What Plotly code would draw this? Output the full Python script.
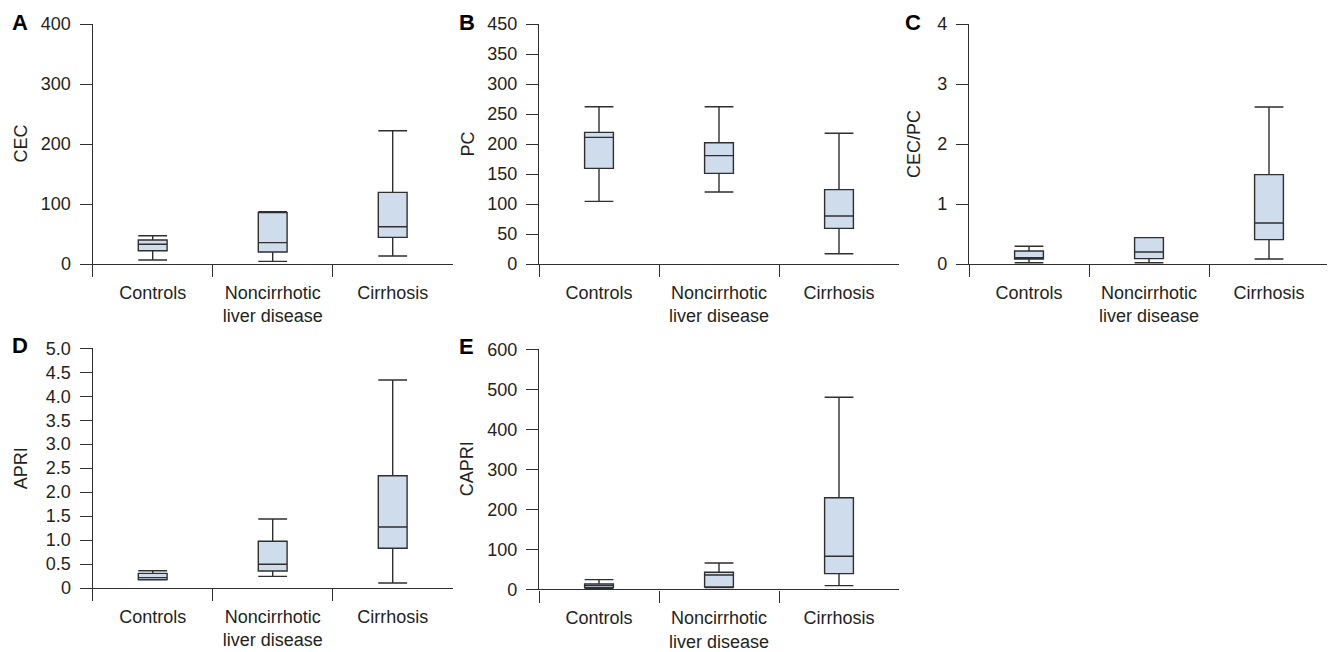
import plotly.graph_objects as go

# Reference canvas size and the page's default 8px body margin
REF_W, REF_H = 1335, 652
OFF = 8
W, H = REF_W - OFF, REF_H - OFF

categories = ["Controls", "Noncirrhotic<br>liver disease", "Cirrhosis"]

# Panel A: CEC
cec_low = [6.7, 4.4, 13.3]
cec_q1 = [22.2, 20.0, 44.4]
cec_med = [32.8, 35.6, 62.2]
cec_q3 = [40.0, 85.6, 119.4]
cec_high = [47.2, 87.2, 222.0]
cec_ticks = [0, 100, 200, 300, 400]
cec_ticktext = ["0", "100", "200", "300", "400"]

# Panel B: PC
pc_low = [104.4, 120.0, 17.2]
pc_q1 = [159.4, 151.0, 59.4]
pc_med = [211.0, 180.6, 80.0]
pc_q3 = [219.4, 202.0, 123.9]
pc_high = [262.2, 262.2, 217.8]
pc_ticks = [0, 50, 100, 150, 200, 250, 300, 350, 400]
pc_ticktext = ["0", "50", "100", "150", "200", "250", "300", "350", "450"]

# Panel C: CEC/PC
ratio_low = [0.022, 0.022, 0.083]
ratio_q1 = [0.083, 0.089, 0.406]
ratio_med = [0.105, 0.200, 0.683]
ratio_q3 = [0.217, 0.440, 1.489]
ratio_high = [0.295, 0.440, 2.617]
ratio_ticks = [0, 1, 2, 3, 4]
ratio_ticktext = ["0", "1", "2", "3", "4"]

# Panel D: APRI
apri_low = [0.17, 0.243, 0.104]
apri_q1 = [0.174, 0.355, 0.828]
apri_med = [0.216, 0.494, 1.273]
apri_q3 = [0.306, 0.974, 2.343]
apri_high = [0.36, 1.44, 4.34]
apri_ticks = [0, 0.5, 1.0, 1.5, 2.0, 2.5, 3.0, 3.5, 4.0, 4.5, 5.0]
apri_ticktext = ["0", "0.5", "1.0", "1.5", "2.0", "2.5", "3.0", "3.5", "4.0", "4.5", "5.0"]

# Panel E: CAPRI
capri_low = [2.5, 4.2, 9.2]
capri_q1 = [4.2, 5.8, 39.2]
capri_med = [9.2, 35.8, 82.5]
capri_q3 = [13.3, 42.5, 229.0]
capri_high = [24.2, 65.8, 480.0]
capri_ticks = [0, 100, 200, 300, 400, 500, 600]
capri_ticktext = ["0", "100", "200", "300", "400", "500", "600"]

panels = [
    dict(letter="A", title="CEC", low=cec_low, q1=cec_q1, med=cec_med, q3=cec_q3, high=cec_high,
         ticks=cec_ticks, ticktext=cec_ticktext, rng=[0, 400],
         box=(92.7, 452.7, 24, 264), letter_pos=(9.5, 22.5), title_x=20.5),
    dict(letter="B", title="PC", low=pc_low, q1=pc_q1, med=pc_med, q3=pc_q3, high=pc_high,
         ticks=pc_ticks, ticktext=pc_ticktext, rng=[0, 400],
         box=(539, 899, 24, 264), letter_pos=(457, 22.5), title_x=467.5),
    dict(letter="C", title="CEC/PC", low=ratio_low, q1=ratio_q1, med=ratio_med, q3=ratio_q3, high=ratio_high,
         ticks=ratio_ticks, ticktext=ratio_ticktext, rng=[0, 4],
         box=(969, 1329, 24, 264), letter_pos=(903, 22.5), title_x=914),
    dict(letter="D", title="APRI", low=apri_low, q1=apri_q1, med=apri_med, q3=apri_q3, high=apri_high,
         ticks=apri_ticks, ticktext=apri_ticktext, rng=[0, 5],
         box=(92.7, 452.7, 348.3, 588), letter_pos=(9.5, 345), title_x=21),
    dict(letter="E", title="CAPRI", low=capri_low, q1=capri_q1, med=capri_med, q3=capri_q3, high=capri_high,
         ticks=capri_ticks, ticktext=capri_ticktext, rng=[0, 600],
         box=(539, 899, 349.3, 589.3), letter_pos=(457, 346), title_x=467),
]

LINE = "#2f2f2f"
FILL = "#cfdcec"
TXT = "#231f20"
FONT = "Liberation Sans, Arial, Helvetica, sans-serif"


def fx(px):
    return (px - OFF) / W


def fy(py):
    return 1 - (py - OFF) / H


fig = go.Figure()
annotations = []
layout_axes = {}

for i, p in enumerate(panels, start=1):
    xa = "x" if i == 1 else f"x{i}"
    ya = "y" if i == 1 else f"y{i}"
    fig.add_trace(go.Box(
        x=categories,
        q1=p["q1"], median=p["med"], q3=p["q3"],
        lowerfence=p["low"], upperfence=p["high"],
        boxpoints=False,
        fillcolor=FILL,
        line=dict(color=LINE, width=1.4),
        whiskerwidth=1,
        width=0.24,
        xaxis=xa, yaxis=ya,
        showlegend=False,
        hoverinfo="skip",
    ))
    x0, x1, y0, y1 = p["box"]
    xkey = "xaxis" if i == 1 else f"xaxis{i}"
    ykey = "yaxis" if i == 1 else f"yaxis{i}"
    layout_axes[xkey] = dict(
        domain=[fx(x0), fx(x1)], anchor=ya,
        type="category", categoryorder="array", categoryarray=categories,
        range=[-0.5, 2.5], tickson="boundaries",
        ticks="outside", ticklen=12, tickwidth=1.4, tickcolor=LINE,
        ticklabelstandoff=12,
        showline=True, linecolor=LINE, linewidth=1.4,
        showgrid=False, zeroline=False, automargin=False,
        tickfont=dict(family=FONT, size=18, color=TXT),
        fixedrange=True,
    )
    layout_axes[ykey] = dict(
        domain=[fy(y1), fy(y0)], anchor=xa,
        range=p["rng"], tickmode="array", tickvals=p["ticks"], ticktext=p["ticktext"],
        ticks="outside", ticklen=12, tickwidth=1.4, tickcolor=LINE,
        ticklabelstandoff=5,
        showline=True, linecolor=LINE, linewidth=1.4,
        showgrid=False, zeroline=False, automargin=False,
        tickfont=dict(family=FONT, size=18, color=TXT),
        fixedrange=True,
    )
    lx, ly = p["letter_pos"]
    annotations.append(dict(
        text=f"<b>{p['letter']}</b>", xref="paper", yref="paper",
        x=fx(lx), y=fy(ly), xanchor="left", yanchor="middle",
        showarrow=False, font=dict(family=FONT, size=22, color="#000"),
    ))
    annotations.append(dict(
        text=p["title"], xref="paper", yref="paper",
        x=fx(p["title_x"]), y=fy((y0 + y1) / 2),
        xanchor="center", yanchor="middle", textangle=-90,
        showarrow=False, font=dict(family=FONT, size=18, color=TXT),
    ))

fig.update_layout(
    width=W, height=H,
    margin=dict(l=0, r=0, t=0, b=0, autoexpand=False),
    paper_bgcolor="white", plot_bgcolor="white",
    annotations=annotations,
    **layout_axes,
)

fig.write_html("out.html", config={"displayModeBar": False})
